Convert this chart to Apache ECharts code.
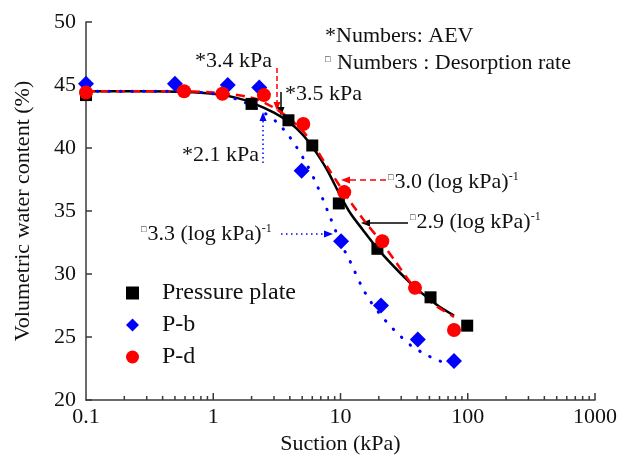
<!DOCTYPE html>
<html>
<head>
<meta charset="utf-8">
<script src="https://cdn.jsdelivr.net/npm/echarts@6/dist/echarts.min.js"></script>
<style>html,body{margin:0;padding:0;background:#fff}#c{width:633px;height:462px}</style>
</head>
<body>
<div id="c"></div>
<script>
// ---- data ----
const xTickValues = [0.1, 1, 10, 100, 1000];
const yTickValues = [20, 25, 30, 35, 40, 45, 50];
const xMajorTickMarks = [1, 10, 100, 1000];
const xMinorTickMarks = [0.2,0.3,0.4,0.5,0.6,0.7,0.8,0.9,2,3,4,5,6,7,8,9,20,30,40,50,60,70,80,90,200,300,400,500,600,700,800,900];

const ppX = [0.1, 2.0, 3.9, 6.0, 9.7, 19.5, 51, 99];
const ppY = [44.2, 43.5, 42.2, 40.2, 35.6, 32.0, 28.15, 25.9];
const pbX = [0.1, 0.5, 1.3, 2.3, 4.95, 10.1, 20.8, 40.5, 78];
const pbY = [45.1, 45.1, 45.0, 44.8, 38.2, 32.6, 27.5, 24.8, 23.1];
const pdX = [0.1, 0.59, 1.18, 2.5, 5.1, 10.7, 21.3, 38.5, 78];
const pdY = [44.4, 44.5, 44.3, 44.2, 41.9, 36.5, 32.6, 28.9, 25.55];

const fitPPX = [0.1, 0.3, 0.6, 1, 1.5, 2, 3, 4, 5, 6, 7, 8, 10, 12, 15, 20, 30, 40, 50, 60, 78];
const fitPPY = [44.5, 44.5, 44.45, 44.3, 44.0, 43.6, 42.8, 42.0, 41.1, 40.1, 39.1, 38.1, 36.2, 34.8, 33.5, 31.9, 30.0, 28.8, 28.0, 27.4, 26.7];
const fitPDX = [0.1, 0.5, 1, 2, 3, 4, 5, 6, 8, 10, 12, 16, 20, 27, 37, 54, 78];
const fitPDY = [44.5, 44.5, 44.4, 44.0, 43.2, 42.3, 41.4, 40.4, 38.4, 36.9, 35.7, 34.0, 32.8, 31.0, 29.1, 27.6, 26.6];
const fitPBX = [0.1, 0.5, 1, 1.6, 2.5, 3.2, 3.9, 4.5, 5.5, 6.5, 8.3, 10, 11.9, 14.7, 17, 20.5, 24.5, 29.4, 36, 47, 60, 78];
const fitPBY = [44.5, 44.5, 44.3, 43.8, 42.8, 42.0, 41.0, 40.1, 38.6, 37.1, 34.5, 32.5, 31.0, 29.0, 27.9, 26.8, 25.9, 25.1, 24.3, 23.6, 23.1, 22.8];

const seriesNames = ['Pressure plate', 'P-b', 'P-d'];
const zip = (a, b) => a.map((v, i) => [v, b[i]]);

const FONT = '"Liberation Serif", "Times New Roman", serif';
const AX = '#3a3a3a';
const Y_MIN = 20;

function arrow(x1, y1, x2, y2, color, dash, w) {
  const dx = x2 - x1, dy = y2 - y1, L = Math.hypot(dx, dy);
  const ux = dx / L, uy = dy / L, hl = 9, hw = 3.5;
  const bx = x2 - ux * hl, by = y2 - uy * hl;
  const lineStyle = { stroke: color, lineWidth: w };
  if (dash) lineStyle.lineDash = dash;
  return {
    type: 'group', silent: true, z: 50,
    children: [
      { type: 'line', shape: { x1: x1, y1: y1, x2: bx, y2: by }, style: lineStyle },
      { type: 'polygon', shape: { points: [[x2, y2], [bx - uy * hw, by + ux * hw], [bx + uy * hw, by - ux * hw]] },
        style: { fill: color } }
    ]
  };
}
function label(x, y, rich, str) {
  const style = { text: str, font: '22px ' + FONT, fill: '#111', verticalAlign: 'middle', align: 'left' };
  if (rich) style.rich = rich;
  return { type: 'text', x: x, y: y, z: 50, silent: true, style: style };
}
const richRate = {
  sq: { fontSize: 9, fontFamily: FONT, verticalAlign: 'top', padding: [2, 1, 0, 0] },
  t: { fontSize: 22, fontFamily: FONT },
  sup: { fontSize: 12, fontFamily: FONT, verticalAlign: 'top' }
};
function tickSeries(values, len) {
  return { type: 'scatter', name: 'ticks' + len, silent: true, clip: false, z: 20,
    data: values.map(v => [v, Y_MIN]),
    symbol: 'rect', symbolSize: [1.5, len], symbolOffset: [0, -len / 2],
    itemStyle: { color: AX, opacity: 1 }, emphasis: { disabled: true } };
}

const chart = echarts.init(document.getElementById('c'));
chart.setOption({
  animation: false,
  backgroundColor: '#fff',
  grid: { left: 86, right: 38, top: 22, bottom: 62 },
  legend: {
    data: seriesNames, orient: 'vertical', left: 121, top: 276,
    itemWidth: 13, itemHeight: 13, itemGap: 8,
    textStyle: { fontFamily: FONT, fontSize: 24, color: '#111', lineHeight: 22, padding: [0, 0, 0, 18] }
  },
  xAxis: {
    type: 'log', logBase: 10, min: 0.1, max: 1000, interval: 1,
    name: 'Suction (kPa)', nameLocation: 'middle', nameGap: 29,
    nameTextStyle: { fontFamily: FONT, fontSize: 22, color: '#111' },
    axisLine: { lineStyle: { color: AX, width: 1.5 } },
    axisTick: { show: false },
    minorTick: { show: false },
    axisLabel: { fontFamily: FONT, fontSize: 22, color: '#111', margin: 6,
      formatter: v => String(+(+v).toPrecision(6)) },
    splitLine: { show: false },
    minorSplitLine: { show: false }
  },
  yAxis: {
    type: 'value', min: Y_MIN, max: 50, interval: 5,
    name: 'Volumetric water content (%)', nameLocation: 'middle', nameGap: 52,
    nameTextStyle: { fontFamily: FONT, fontSize: 22, color: '#111' },
    axisLine: { show: true, lineStyle: { color: AX, width: 1.5 } },
    axisTick: { show: true, inside: true, length: 6, lineStyle: { color: AX, width: 1.5 } },
    axisLabel: { fontFamily: FONT, fontSize: 22, color: '#111', margin: 10 },
    splitLine: { show: false }
  },
  series: [
    { type: 'line', name: 'fitPP', data: zip(fitPPX, fitPPY), smooth: 0.3, showSymbol: false, silent: true,
      lineStyle: { color: '#000', width: 2.5 }, z: 3 },
    { type: 'line', name: 'fitPD', data: zip(fitPDX, fitPDY), smooth: 0.3, showSymbol: false, silent: true,
      lineStyle: { color: '#ff0000', width: 2.5, type: [9, 6] }, z: 3 },
    { type: 'line', name: 'fitPB', data: zip(fitPBX, fitPBY), smooth: 0.3, showSymbol: false, silent: true,
      lineStyle: { color: '#0000ff', width: 3, type: [0.5, 11], cap: 'round' }, z: 3 },
    { type: 'scatter', name: seriesNames[0], data: zip(ppX, ppY), symbol: 'rect', symbolSize: 12,
      itemStyle: { color: '#000', opacity: 1 }, z: 4 },
    { type: 'scatter', name: seriesNames[1], data: zip(pbX, pbY), symbol: 'diamond', symbolSize: 16,
      itemStyle: { color: '#0000ff', opacity: 1 }, z: 4 },
    { type: 'scatter', name: seriesNames[2], data: zip(pdX, pdY), symbol: 'circle', symbolSize: 14,
      itemStyle: { color: '#ff0000', opacity: 1 }, z: 5 },
    tickSeries(xMajorTickMarks, 7),
    tickSeries(xMinorTickMarks, 4)
  ],
  graphic: [
    label(325, 36, null, '*Numbers: AEV'),
    { type: 'text', x: 325, y: 55, z: 50, silent: true, style: { text: '\u25A1', font: '9px ' + FONT, fill: '#111' } },
    label(337, 63, null, 'Numbers : Desorption rate'),
    label(195, 61, null, '*3.4 kPa'),
    label(285, 94, null, '*3.5 kPa'),
    label(182, 155, null, '*2.1 kPa'),
    label(388, 182, richRate, '{sq|\u25A1}{t|3.0 (log kPa)}{sup|-1}'),
    label(410, 222, richRate, '{sq|\u25A1}{t|2.9 (log kPa)}{sup|-1}'),
    label(141, 234, richRate, '{sq|\u25A1}{t|3.3 (log kPa)}{sup|-1}'),
    arrow(277, 68, 277, 111, '#ff0000', [5, 3], 1.5),
    arrow(281, 92, 281, 116, '#000', null, 1.5),
    arrow(263, 163, 263, 112, '#0000ff', [1.5, 3], 1.5),
    arrow(386, 180, 341, 180, '#ff0000', [6, 4], 1.5),
    arrow(408, 223, 361, 223, '#000', null, 1.5),
    arrow(281, 234, 333, 234, '#0000ff', [1.5, 3.5], 1.5)
  ]
});
</script>
</body>
</html>
